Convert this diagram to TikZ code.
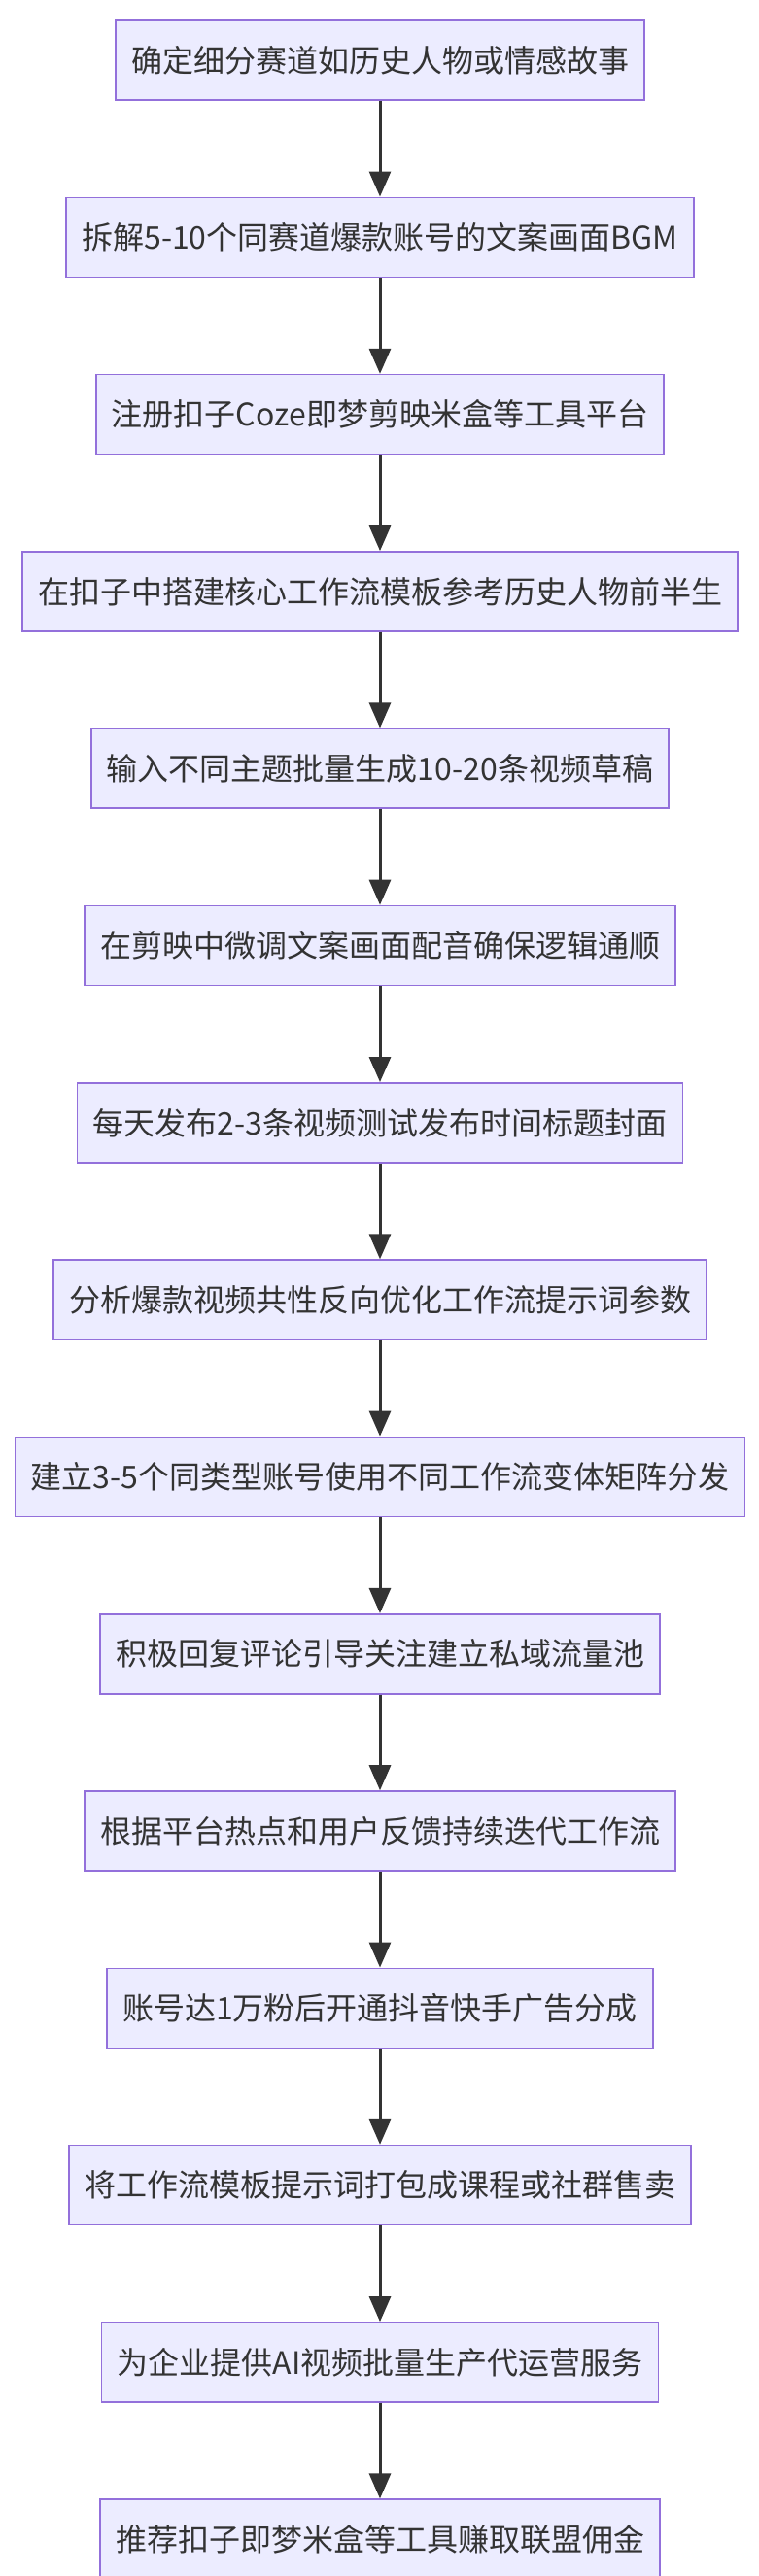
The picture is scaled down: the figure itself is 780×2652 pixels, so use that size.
\documentclass[tikz,border=0pt]{standalone}
\usepackage{fontspec}
\setmainfont{Noto Sans CJK SC}
\usetikzlibrary{positioning,arrows.meta}
\definecolor{boxfill}{HTML}{ECECFF}
\definecolor{boxline}{HTML}{9370DB}
\definecolor{flowline}{HTML}{333333}
\tikzset{
  stepbox/.style={draw=boxline,fill=boxfill,line width=1.6pt,minimum height=82pt,
    inner xsep=16pt,font=\fontsize{32}{38}\selectfont,text=flowline},
  flow/.style={draw=flowline,line width=3pt,-{Triangle[length=26pt,width=22pt]}}
}
\begin{document}
\begin{tikzpicture}[x=1pt,y=1pt,node distance=98.7pt]
				\useasboundingbox[fill=white] (0,0) rectangle (780,-2652);
				\node[stepbox] (s1) at (391,-62) {确定细分赛道如历史人物或情感故事};
				\node[stepbox,below=of s1] (s2) {拆解5-10个同赛道爆款账号的文案画面BGM};
				\node[stepbox,below=of s2] (s3) {注册扣子Coze即梦剪映米盒等工具平台};
				\node[stepbox,below=of s3] (s4) {在扣子中搭建核心工作流模板参考历史人物前半生};
				\node[stepbox,below=of s4] (s5) {输入不同主题批量生成10-20条视频草稿};
				\node[stepbox,below=of s5] (s6) {在剪映中微调文案画面配音确保逻辑通顺};
				\node[stepbox,below=of s6] (s7) {每天发布2-3条视频测试发布时间标题封面};
				\node[stepbox,below=of s7] (s8) {分析爆款视频共性反向优化工作流提示词参数};
				\node[stepbox,below=of s8] (s9) {建立3-5个同类型账号使用不同工作流变体矩阵分发};
				\node[stepbox,below=of s9] (s10) {积极回复评论引导关注建立私域流量池};
				\node[stepbox,below=of s10] (s11) {根据平台热点和用户反馈持续迭代工作流};
				\node[stepbox,below=of s11] (s12) {账号达1万粉后开通抖音快手广告分成};
				\node[stepbox,below=of s12] (s13) {将工作流模板提示词打包成课程或社群售卖};
				\node[stepbox,below=of s13] (s14) {为企业提供AI视频批量生产代运营服务};
				\node[stepbox,below=of s14] (s15) {推荐扣子即梦米盒等工具赚取联盟佣金};
				%
				\foreach \a/\b in {1/2,2/3,3/4,4/5,5/6,6/7,7/8,8/9,9/10,10/11,11/12,12/13,13/14,14/15}
					\draw[flow] (s\a) -- (s\b);
\end{tikzpicture}
\end{document}
